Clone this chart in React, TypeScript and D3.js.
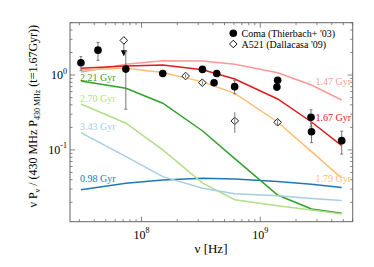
import * as d3 from "d3";

// model frequencies (MHz) at which the curves are evaluated
const modelFreqs = [30.9, 74, 151, 327, 610, 1400, 2700, 4850];

const curveAges = ["0.98", "1.47", "1.67", "1.79", "2.21", "2.70", "3.43"];
const curveColors = ["#1f78b4", "#fb9a99", "#e31a1c", "#fdbf6f", "#33a02c", "#b2df8a", "#a6cee3"];
const curve098 = [0.0293, 0.036, 0.0398, 0.0419, 0.041, 0.0378, 0.0348, 0.0315];
const curve147 = [1.1, 1.39, 1.55, 1.54, 1.39, 1.07, 0.735, 0.464];
const curve167 = [1.23, 1.32, 1.36, 1.18, 0.885, 0.479, 0.236, 0.114];
const curve179 = [1.166, 1.23, 1.08, 0.81, 0.57, 0.236, 0.095, 0.042];
const curve221 = [0.832, 0.665, 0.42, 0.179, 0.0766, 0.025, 0.0163, 0.0143];
const curve270 = [0.41, 0.227, 0.1, 0.036, 0.0216, 0.018, 0.0158, 0.0139];
const curve343 = [0.17, 0.0814, 0.044, 0.0308, 0.0259, 0.0244, 0.0224, 0.0211];
const curves = [curve098, curve147, curve167, curve179, curve221, curve270, curve343];

// Coma (Thierbach+ '03)
const comaFreq = [30.9, 43, 73.8, 151, 326, 408, 430, 608.5, 1380, 1400, 2675, 2700, 4850];
const comaVal = [1.46, 2.15, 1.2, 1.05, 1.19, 0.79, 1.05, 0.7, 0.69, 0.85, 0.273, 0.175, 0.133];
const comaErr = [0.3, 0.58, 0.85, 0.08, 0.06, 0.05, 0.07, 0.14, 0.04, 0.04, 0.07, 0.05, 0.045];

// A521 (Dallacasa '09)
const a521Freq = [235, 325, 610, 1400];
const a521Val = [0.97, 0.79, 0.244, 0.234];
const a521Err = [0.05, 0.05, 0.075, 0.02];
// upper limit at 74 MHz
const a521Limit = { freq: 71, val: 2.9, top: 3.25, arrow: 1.95 };

const W = 374;
const H = 267;
const L = 70, R = 352.7, T = 22.7, B = 221.7;
const FONT = "'Liberation Serif', 'Times New Roman', serif";

export default function App() {
  const x = d3.scaleLog().domain([2.5e7, 6e9]).range([L, R]);
  const y = d3.scaleLog().domain([0.011, 5]).range([B, T]);

  const line = d3
    .line<number>()
    .x((_, i) => x(modelFreqs[i] * 1e6))
    .y((d) => y(d));

  const xMinor: number[] = [];
  for (let e = 7; e <= 9; e++)
    for (let m = 1; m < 10; m++) {
      const v = m * Math.pow(10, e);
      if (v >= 2.5e7 && v <= 6e9) xMinor.push(v);
    }
  const yMinor: number[] = [];
  for (let e = -2; e <= 0; e++)
    for (let m = 1; m < 10; m++) {
      const v = m * Math.pow(10, e);
      if (v >= 0.011 && v <= 5) yMinor.push(v);
    }
  const isMajor = (v: number) => Math.abs(Math.log10(v) - Math.round(Math.log10(v))) < 1e-6;

  const diamond = (cx: number, cy: number, s: number) =>
    `M${cx},${cy - s}L${cx + s},${cy}L${cx},${cy + s}L${cx - s},${cy}Z`;

  const labelsLeft = [
    { i: 4, yv: 80.5 },
    { i: 5, yv: 101.5 },
    { i: 6, yv: 130 },
    { i: 0, yv: 181.5 },
  ];
  const labelsRight = [
    { i: 1, yv: 85 },
    { i: 2, yv: 121 },
    { i: 3, yv: 182 },
  ];

  const lx = a521Limit.freq * 1e6;

  return (
    <svg
      width={W}
      height={H}
      style={{ position: "absolute", left: 0, top: 0, background: "#fff" }}
      fontFamily={FONT}
    >
      {/* curves */}
      {curves.map((c, k) => (
        <path key={k} d={line(c) ?? ""} fill="none" stroke={curveColors[k]} strokeWidth={1.5} />
      ))}

      {/* curve labels */}
      {labelsLeft.map((l) => (
        <text key={l.i} x={80} y={l.yv} fontSize={10} fill={curveColors[l.i]}>
          {curveAges[l.i]} Gyr
        </text>
      ))}
      {labelsRight.map((l) => (
        <text key={l.i} x={351} y={l.yv} fontSize={10} fill={curveColors[l.i]} textAnchor="end">
          {curveAges[l.i]} Gyr
        </text>
      ))}

      {/* A521 upper limit */}
      <line x1={x(lx)} x2={x(lx)} y1={y(a521Limit.top)} y2={y(a521Limit.arrow)} stroke="#777" strokeWidth={1} />
      <path
        d={`M${x(lx) - 3},${y(a521Limit.arrow) - 3}L${x(lx) + 3},${y(a521Limit.arrow) - 3}L${x(lx)},${y(a521Limit.arrow) + 3}Z`}
        fill="#000"
      />
      <path d={diamond(x(lx), y(a521Limit.val), 3.8)} fill="#fff" stroke="#000" strokeWidth={0.9} />

      {/* Coma error bars + points */}
      {comaFreq.map((f, i) => {
        const cx = x(f * 1e6);
        return (
          <g key={"c" + i}>
            <line x1={cx} x2={cx} y1={y(comaVal[i] + comaErr[i])} y2={y(comaVal[i] - comaErr[i])} stroke="#777" strokeWidth={1} />
            <line x1={cx - 1.5} x2={cx + 1.5} y1={y(comaVal[i] + comaErr[i])} y2={y(comaVal[i] + comaErr[i])} stroke="#777" />
            <line x1={cx - 1.5} x2={cx + 1.5} y1={y(comaVal[i] - comaErr[i])} y2={y(comaVal[i] - comaErr[i])} stroke="#777" />
            <circle cx={cx} cy={y(comaVal[i])} r={3.8} fill="#000" />
          </g>
        );
      })}

      {/* A521 points */}
      {a521Freq.map((f, i) => {
        const cx = x(f * 1e6);
        return (
          <g key={"a" + i}>
            <path d={diamond(cx, y(a521Val[i]), 3.8)} fill="#fff" stroke="#000" strokeWidth={0.9} />
            <line x1={cx} x2={cx} y1={y(a521Val[i] + a521Err[i])} y2={y(a521Val[i] - a521Err[i])} stroke="#777" strokeWidth={1} />
          </g>
        );
      })}

      {/* frame */}
      <rect x={L} y={T} width={R - L} height={B - T} fill="none" stroke="#666" strokeWidth={1} />

      {/* ticks */}
      {xMinor.map((v) => {
        const len = isMajor(v) ? 5 : 2.5;
        const px = x(v);
        return (
          <g key={"xt" + v} stroke="#666" strokeWidth={0.8}>
            <line x1={px} x2={px} y1={B} y2={B - len} />
            <line x1={px} x2={px} y1={T} y2={T + len} />
          </g>
        );
      })}
      {yMinor.map((v) => {
        const len = isMajor(v) ? 5 : 2.5;
        const py = y(v);
        return (
          <g key={"yt" + v} stroke="#666" strokeWidth={0.8}>
            <line x1={L} x2={L + len} y1={py} y2={py} />
            <line x1={R} x2={R - len} y1={py} y2={py} />
          </g>
        );
      })}

      {/* tick labels */}
      {[1e8, 1e9].map((v) => (
        <text key={"xl" + v} x={x(v)} y={238.5} fontSize={12} textAnchor="middle" fill="#000">
          10<tspan fontSize={8} dy={-5.5}>{Math.round(Math.log10(v))}</tspan>
        </text>
      ))}
      {[1, 0.1].map((v) => (
        <text key={"yl" + v} x={67} y={y(v) + 4} fontSize={12} textAnchor="end" fill="#000">
          10<tspan fontSize={8} dy={-5.5}>{Math.round(Math.log10(v))}</tspan>
        </text>
      ))}

      {/* axis labels */}
      <text x={211} y={253} fontSize={13} textAnchor="middle" fill="#000">
        ν [Hz]
      </text>
      <text
        transform={`translate(37,${(T + B) / 2 - 6}) rotate(-90)`}
        fontSize={12}
        textAnchor="middle"
        fill="#000"
      >
        ν P<tspan fontSize={8} dy={2.5}>ν</tspan>
        <tspan dy={-2.5}> / (430 MHz P</tspan>
        <tspan fontSize={8} dy={2.5}>430 MHz</tspan>
        <tspan dy={-2.5}> (t=1.67Gyr))</tspan>
      </text>

      {/* legend */}
      <circle cx={233.3} cy={33.3} r={3.8} fill="#000" />
      <text x={241.5} y={36.8} fontSize={10} fill="#000">
        Coma (Thierbach+ '03)
      </text>
      <path d={diamond(233.3, 44, 3.8)} fill="#fff" stroke="#000" strokeWidth={0.9} />
      <text x={241.5} y={47.5} fontSize={10} fill="#000">
        A521 (Dallacasa '09)
      </text>
    </svg>
  );
}
